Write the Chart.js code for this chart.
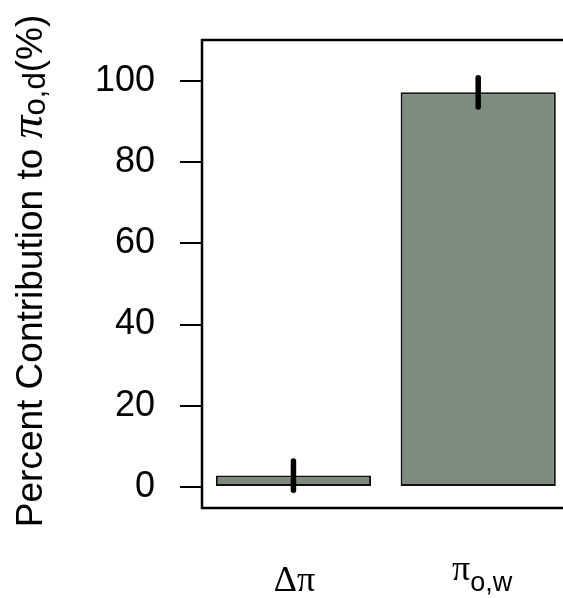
<!DOCTYPE html>
<html lang="en">
<head>
    <meta charset="UTF-8">
    <title>Percent Contribution</title>
    <script src="https://cdn.jsdelivr.net/npm/chart.js@4.4.1/dist/chart.umd.min.js"></script>
    <style>
        html, body { margin: 0; padding: 0; background: #fff; }
        canvas { display: block; }
    </style>
</head>
<body>
    <canvas id="contribChart" width="563" height="598"></canvas>

    <script>
        // データ
        const barPositions = [1, 2];
        const barValues = [2.8, 97.2];
        const errorSizes = [3.6, 3.6];
        const yTicks = [0, 20, 40, 60, 80, 100];
        // ラベル（本体 + 下付き文字）
        const xLabelMain = ['Δπ', 'π'];
        const xLabelSub = ['', 'o,w'];
        const yTitleMain = 'Percent Contribution to ';
        const yTitleSymbol = 'π';
        const yTitleSub = 'o,d';
        const yTitleTail = '(%)';

        const SANS = '"Liberation Sans", Arial, sans-serif';
        const SERIF = '"Liberation Serif", "Times New Roman", serif';

        // 複数フォントの文字列を横に並べて描く
        function drawParts(ctx, parts, startX, baseY) {
            let x = startX;
            parts.forEach(p => {
                ctx.font = p.font;
                ctx.fillText(p.text, x, baseY + (p.dy || 0));
                x += ctx.measureText(p.text).width;
            });
        }
        function partsWidth(ctx, parts) {
            let w = 0;
            parts.forEach(p => {
                ctx.font = p.font;
                w += ctx.measureText(p.text).width;
            });
            return w;
        }

        const decorPlugin = {
            id: 'decor',
            afterDatasetsDraw(chart) {
                const ctx = chart.ctx;
                const xs = chart.scales.x;
                const ys = chart.scales.y;
                const area = chart.chartArea;
                ctx.save();

                // エラーバー
                ctx.strokeStyle = '#000';
                ctx.lineWidth = 5.5;
                ctx.lineCap = 'round';
                barPositions.forEach((pos, i) => {
                    const px = xs.getPixelForValue(pos);
                    ctx.beginPath();
                    ctx.moveTo(px, ys.getPixelForValue(barValues[i] - errorSizes[i]));
                    ctx.lineTo(px, ys.getPixelForValue(barValues[i] + errorSizes[i]));
                    ctx.stroke();
                });

                // 枠（右側は画面外）
                ctx.lineCap = 'butt';
                ctx.lineWidth = 2.5;
                ctx.beginPath();
                ctx.moveTo(chart.width, area.top);
                ctx.lineTo(area.left, area.top);
                ctx.lineTo(area.left, area.bottom);
                ctx.lineTo(chart.width, area.bottom);
                ctx.stroke();

                // x軸ラベル
                ctx.fillStyle = '#000';
                ctx.textAlign = 'left';
                ctx.textBaseline = 'alphabetic';
                barPositions.forEach((pos, i) => {
                    const parts = [{ text: xLabelMain[i], font: '36px ' + SERIF, dy: 0 }];
                    if (xLabelSub[i]) {
                        parts[0].dy = -11;
                        parts.push({ text: xLabelSub[i], font: '27px ' + SANS, dy: 0 });
                    }
                    const w = partsWidth(ctx, parts);
                    const cx = xs.getPixelForValue(pos) + (xLabelSub[i] ? 4 : 1);
                    drawParts(ctx, parts, cx - w / 2, 591);
                });

                // y軸タイトル（回転）
                const tparts = [
                    { text: yTitleMain, font: '37px ' + SANS },
                    { text: yTitleSymbol, font: 'italic 46px ' + SERIF },
                    { text: yTitleSub, font: '31px ' + SANS, dy: 3 },
                    { text: yTitleTail, font: '37px ' + SANS }
                ];
                const tw = partsWidth(ctx, tparts);
                ctx.translate(42, (area.top + area.bottom) / 2 - 3);
                ctx.rotate(-Math.PI / 2);
                drawParts(ctx, tparts, -tw / 2, 0);

                ctx.restore();
            }
        };

        const ctx = document.getElementById('contribChart').getContext('2d');
        new Chart(ctx, {
            type: 'bar',
            data: {
                datasets: [{
                    data: barPositions.map((p, i) => ({ x: p, y: barValues[i] })),
                    backgroundColor: '#7c8b7e',
                    borderColor: '#111',
                    borderWidth: 2,
                    borderSkipped: false,
                    barPercentage: 0.84,
                    categoryPercentage: 1
                }]
            },
            options: {
                responsive: false,
                animation: false,
                layout: { padding: { top: 40, bottom: 90, left: 0, right: 0 } },
                plugins: {
                    legend: { display: false },
                    tooltip: { enabled: false }
                },
                scales: {
                    x: {
                        type: 'linear',
                        display: false,
                        offset: false,
                        min: 0.505,
                        max: 2.459,
                        // 棒の幅計算が隠れた目盛りに引きずられないように
                        afterBuildTicks(scale) {
                            scale.ticks = barPositions.map(v => ({ value: v }));
                        }
                    },
                    y: {
                        min: -5.2,
                        max: 110.1,
                        afterFit(scale) {
                            scale.width = 202;
                            scale.paddingTop = 0;
                            scale.paddingBottom = 0;
                        },
                        afterBuildTicks(scale) {
                            scale.ticks = yTicks.map(v => ({ value: v }));
                        },
                        border: { display: false },
                        grid: {
                            drawOnChartArea: false,
                            drawTicks: true,
                            tickLength: 22,
                            color: '#000',
                            lineWidth: 2
                        },
                        ticks: {
                            padding: 25,
                            color: '#000',
                            font: { family: SANS, size: 36 }
                        }
                    }
                }
            },
            plugins: [decorPlugin]
        });
    </script>
</body>
</html>
